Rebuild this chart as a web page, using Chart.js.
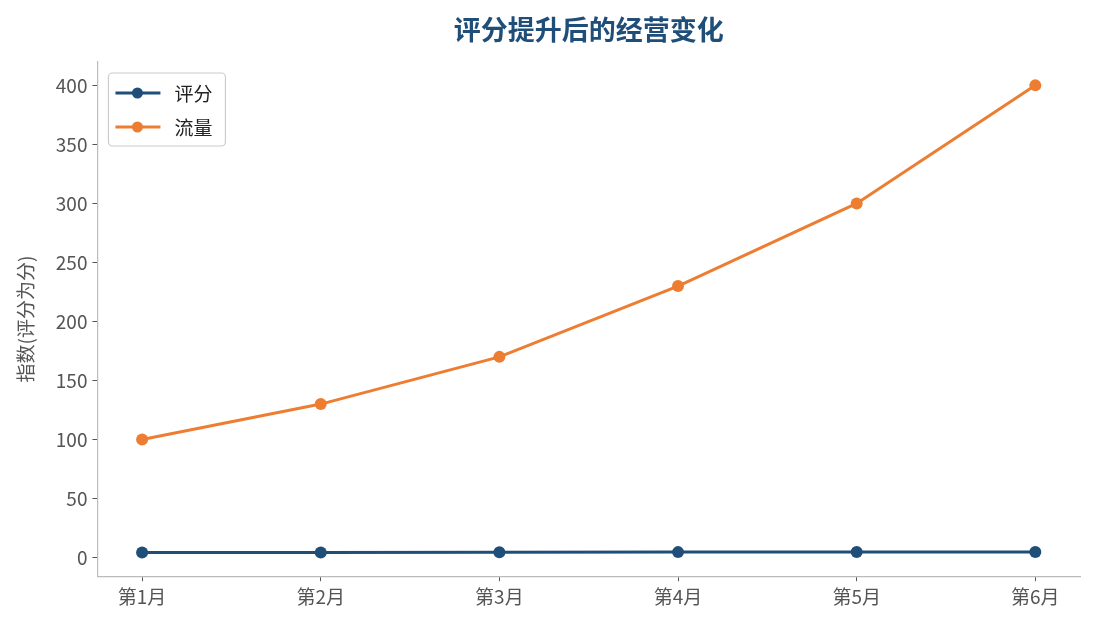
<!DOCTYPE html>
<html>
<head>
<meta charset="utf-8">
<script src="https://cdn.jsdelivr.net/npm/chart.js@4"></script>
<style>
  body { margin: 0; background: #fff; }
</style>
</head>
<body>
<canvas id="chart" width="1095" height="630"></canvas>
<script>
const months = ["第1月", "第2月", "第3月", "第4月", "第5月", "第6月"];
const scoreValues = [4.2, 4.3, 4.4, 4.6, 4.7, 4.8];
const trafficValues = [100, 130, 170, 230, 300, 400];
const seriesNames = ["评分", "流量"];
const seriesColors = ["#1f4e79", "#ed7d31"];
const chartTitle = "评分提升后的经营变化";

const FONT = "'Noto Sans CJK SC', 'Noto Sans', sans-serif";

function toPoints(values) {
  return values.map((v, i) => ({ x: i, y: v }));
}

// title centred over the plot area (like matplotlib), not the whole canvas
const axesTitle = {
  id: "axesTitle",
  afterDraw(chart) {
    const ctx = chart.ctx;
    const area = chart.chartArea;
    ctx.save();
    ctx.fillStyle = "#1f4e79";
    ctx.font = "bold 27px " + FONT;
    ctx.textAlign = "center";
    ctx.textBaseline = "middle";
    ctx.fillText(chartTitle, (area.left + area.right) / 2, 30);
    ctx.restore();
  },
};

// matplotlib style legend, drawn inside the plot at top-left
const insideLegend = {
  id: "insideLegend",
  afterDraw(chart) {
    const ctx = chart.ctx;
    const area = chart.chartArea;
    const x0 = area.left + 11, y0 = area.top + 11;
    const w = 117, h = 73;
    ctx.save();
    ctx.beginPath();
    ctx.roundRect(x0, y0, w, h, 4);
    ctx.fillStyle = "rgba(255,255,255,0.8)";
    ctx.fill();
    ctx.strokeStyle = "#cccccc";
    ctx.lineWidth = 1.2;
    ctx.stroke();
    chart.data.datasets.forEach((ds, i) => {
      const y = y0 + 20 + i * 34;
      ctx.strokeStyle = ds.borderColor;
      ctx.lineWidth = 3;
      ctx.beginPath();
      ctx.moveTo(x0 + 7, y);
      ctx.lineTo(x0 + 52, y);
      ctx.stroke();
      ctx.fillStyle = ds.borderColor;
      ctx.beginPath();
      ctx.arc(x0 + 29, y, 5.5, 0, Math.PI * 2);
      ctx.fill();
      ctx.fillStyle = "#222";
      ctx.font = "19px " + FONT;
      ctx.textBaseline = "middle";
      ctx.fillText(ds.label, x0 + 66, y + 1);
    });
    ctx.restore();
  },
};

new Chart(document.getElementById("chart"), {
  type: "line",
  data: {
    datasets: [
      {
        label: seriesNames[0],
        data: toPoints(scoreValues),
        borderColor: seriesColors[0],
        backgroundColor: seriesColors[0],
        borderWidth: 3,
        pointRadius: 6,
        pointBorderWidth: 0,
        pointHoverRadius: 6,
      },
      {
        label: seriesNames[1],
        data: toPoints(trafficValues),
        borderColor: seriesColors[1],
        backgroundColor: seriesColors[1],
        borderWidth: 3,
        pointRadius: 6,
        pointBorderWidth: 0,
        pointHoverRadius: 6,
      },
    ],
  },
  options: {
    responsive: false,
    devicePixelRatio: 1,
    animation: false,
    layout: { padding: { left: 14, right: 15, top: 62, bottom: 18 } },
    plugins: {
      legend: { display: false },
      tooltip: { enabled: false },
      title: { display: false },
    },
    scales: {
      x: {
        type: "linear",
        min: -0.25,
        max: 5.25,
        afterBuildTicks(scale) {
          scale.ticks = months.map((_, i) => ({ value: i }));
        },
        ticks: {
          callback: (v) => months[v],
          color: "#555",
          font: { family: FONT, size: 19 },
          padding: 4,
          maxRotation: 0,
        },
        grid: { drawOnChartArea: false, drawTicks: true, tickLength: 5, tickColor: "#555" },
        border: { display: true, color: "#bbbbbb", width: 1.2 },
      },
      y: {
        min: -15.8,
        max: 419.8,
        afterBuildTicks(scale) {
          const t = [];
          for (let v = 0; v <= 400; v += 50) t.push({ value: v });
          scale.ticks = t;
        },
        ticks: {
          color: "#555",
          font: { family: FONT, size: 19 },
          padding: 5,
        },
        title: {
          display: true,
          text: "指数(评分为分)",
          color: "#555",
          font: { family: FONT, size: 19 },
          padding: { top: 0, bottom: 14 },
        },
        grid: { drawOnChartArea: false, drawTicks: true, tickLength: 5, tickColor: "#555" },
        border: { display: true, color: "#bbbbbb", width: 1.2 },
      },
    },
  },
  plugins: [axesTitle, insideLegend],
});
</script>
</body>
</html>
